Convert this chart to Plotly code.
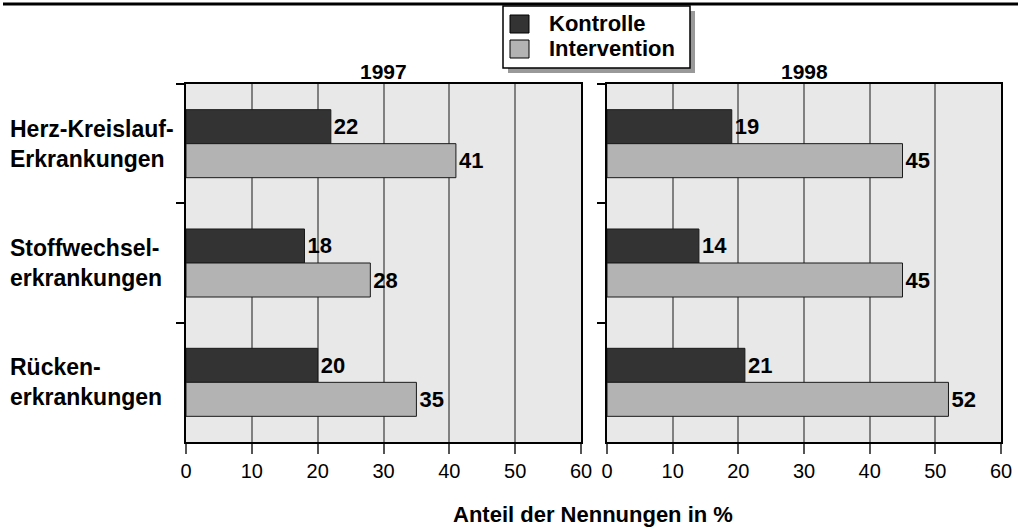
import plotly.graph_objects as go

# ---- data ----
categories = ["Herz-Kreislauf-Erkrankungen", "Stoffwechselerkrankungen", "Rückenerkrankungen"]
category_labels = ["Herz-Kreislauf-<br>Erkrankungen", "Stoffwechsel-<br>erkrankungen", "Rücken-<br>erkrankungen"]
years = ["1997", "1998"]
series_names = ["Kontrolle", "Intervention"]
kontrolle_1997 = [22, 18, 20]
intervention_1997 = [41, 28, 35]
kontrolle_1998 = [19, 14, 21]
intervention_1998 = [45, 45, 52]
x_ticks = [0, 10, 20, 30, 40, 50, 60]
x_title = "Anteil der Nennungen in %"

# ---- style ----
W, H = 1018, 528
FONT = "Liberation Sans, Arial, Helvetica, sans-serif"
DARK = "#333333"
LIGHT = "#b3b3b3"
EDGE = "#1a1a1a"
PLOT_BG = "#e8e8e8"
GRID = "#808080"


def px_x(x):
    return x / W


def px_y(y):
    return 1 - y / H


fig = go.Figure()

panels = [
    (kontrolle_1997, intervention_1997, "x", "y"),
    (kontrolle_1998, intervention_1998, "x2", "y2"),
]
for kon, inter, xa, ya in panels:
    for name, vals, color in [(series_names[0], kon, DARK), (series_names[1], inter, LIGHT)]:
        fig.add_trace(go.Bar(
            y=categories, x=vals, orientation="h", name=name,
            marker=dict(color=color, line=dict(color=EDGE, width=1)),
            text=[str(v) for v in vals], textposition="outside",
            textfont=dict(family=FONT, size=22, color="black", weight="bold"),
            constraintext="none", cliponaxis=False,
            xaxis=xa, yaxis=ya, showlegend=False, hoverinfo="skip",
        ))

x_common = dict(
    range=[0, 60], tickvals=x_ticks, ticktext=[str(t) for t in x_ticks],
    ticks="outside", ticklen=10, tickwidth=1.5, tickcolor="#555555",
    showgrid=True, gridcolor=GRID, gridwidth=1.5, zeroline=False,
    showline=True, linecolor="black", linewidth=1.5, mirror=True,
    tickfont=dict(family=FONT, size=20, color="black"), automargin=False,
    fixedrange=True,
)
y_common = dict(
    type="category", categoryorder="array", categoryarray=categories,
    autorange="reversed", showticklabels=False, ticks="outside",
    tickson="boundaries", ticklen=8, tickwidth=1.5, tickcolor="black",
    showline=True, linecolor="black", linewidth=1.5, mirror=True,
    showgrid=False, zeroline=False, automargin=False, fixedrange=True,
    domain=[px_y(442), px_y(84)],
)

fig.update_layout(
    width=W, height=H,
    margin=dict(l=0, r=0, t=0, b=0),
    paper_bgcolor="white", plot_bgcolor=PLOT_BG,
    barmode="group", bargap=0.43, bargroupgap=0,
    showlegend=False,
    font=dict(family=FONT, color="black"),
    xaxis=dict(domain=[px_x(186), px_x(581)], anchor="y", **x_common),
    xaxis2=dict(domain=[px_x(607), px_x(1001)], anchor="y2", **x_common),
    yaxis=dict(anchor="x", **y_common),
    yaxis2=dict(anchor="x2", **y_common),
)

annotations = []
# category labels (left aligned)
for cat, lab in zip(categories, category_labels):
    annotations.append(dict(
        xref="paper", yref="y", x=px_x(8), y=cat, text=lab,
        xanchor="left", yanchor="middle", align="left", showarrow=False,
        font=dict(family=FONT, size=23, color="black", weight="bold"),
    ))
# year titles
for yr, (x0, x1) in zip(years, [(186, 581), (607, 1001)]):
    annotations.append(dict(
        xref="paper", yref="paper", x=px_x((x0 + x1) / 2), y=px_y(71), text=yr,
        xanchor="center", yanchor="middle", showarrow=False,
        font=dict(family=FONT, size=21, color="black", weight="bold"),
    ))
# x axis title
annotations.append(dict(
    xref="paper", yref="paper", x=px_x(593), y=px_y(514), text=x_title,
    xanchor="center", yanchor="middle", showarrow=False,
    font=dict(family=FONT, size=22, color="black", weight="bold"),
))
# legend texts
for name, yc in zip(series_names, [24, 49]):
    annotations.append(dict(
        xref="paper", yref="paper", x=px_x(547), y=px_y(yc), text=name,
        xanchor="left", yanchor="middle", showarrow=False,
        font=dict(family=FONT, size=22, color="black", weight="bold"),
    ))

shapes = [
    # top rule
    dict(type="line", xref="paper", yref="paper", x0=px_x(3), x1=px_x(1018),
         y0=px_y(4), y1=px_y(4), line=dict(color="black", width=3)),
    # legend shadow
    dict(type="rect", xref="paper", yref="paper", x0=px_x(508), x1=px_x(695),
         y0=px_y(73), y1=px_y(11), fillcolor="#999999", line=dict(width=0)),
    # legend box
    dict(type="rect", xref="paper", yref="paper", x0=px_x(503), x1=px_x(690),
         y0=px_y(68), y1=px_y(6), fillcolor="white", line=dict(color="black", width=1.5)),
    # legend swatches
    dict(type="rect", xref="paper", yref="paper", x0=px_x(510), x1=px_x(529),
         y0=px_y(33), y1=px_y(15), fillcolor=DARK, line=dict(color="black", width=1)),
    dict(type="rect", xref="paper", yref="paper", x0=px_x(510), x1=px_x(529),
         y0=px_y(58), y1=px_y(40), fillcolor=LIGHT, line=dict(color="black", width=1)),
]

fig.update_layout(annotations=annotations, shapes=shapes)

fig.write_html(
    "out.html",
    config={"displayModeBar": False},
    post_script="document.body.style.margin='0';document.body.style.padding='0';",
)
